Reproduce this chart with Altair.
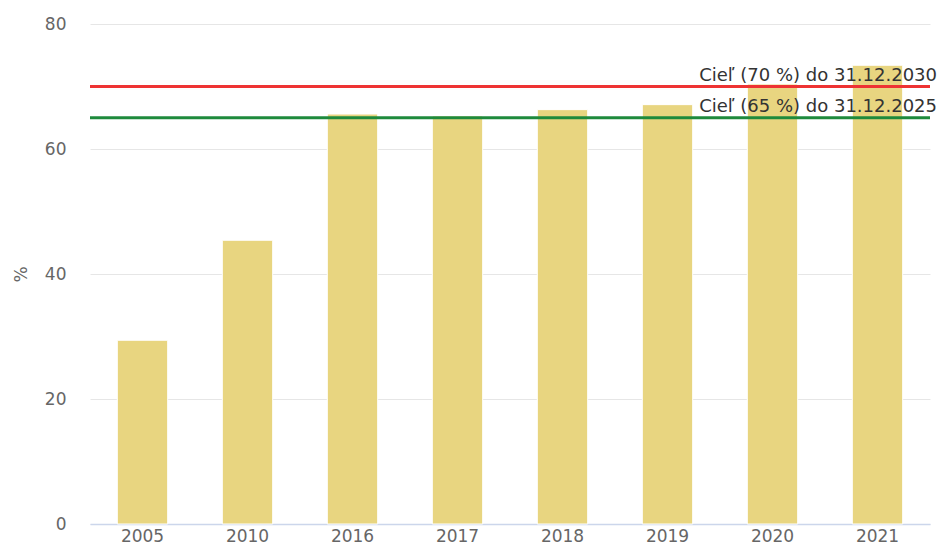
import altair as alt
import pandas as pd

years = ["2005", "2010", "2016", "2017", "2018", "2019", "2020", "2021"]
values = [29.4, 45.4, 65.6, 65.3, 66.3, 67.1, 70.4, 73.4]

target_values = [70, 65]
target_labels = ["Cieľ (70 %) do 31.12.2030", "Cieľ (65 %) do 31.12.2025"]
target_colors = ["#ee3333", "#1e8a3c"]

bars_df = pd.DataFrame({"year": years, "value": values})
targets_df = pd.DataFrame({"value": target_values, "label": target_labels, "color": target_colors})

FONT = "DejaVu Sans"

y_scale = alt.Scale(domain=[0, 80])

bars = alt.Chart(bars_df).mark_bar(color="#e8d580", stroke="white", strokeWidth=1).encode(
    x=alt.X("year:N", sort=years, title=None,
            scale=alt.Scale(paddingInner=0.52, paddingOuter=0.26),
            axis=alt.Axis(labelAngle=0, labelFontSize=17, labelColor="#666666", labelFont=FONT,
                          labelPadding=4, ticks=False, domainColor="#ccd6eb", domainWidth=1.5,
                          grid=False)),
    y=alt.Y("value:Q", scale=y_scale, title="%",
            axis=alt.Axis(values=[0, 20, 40, 60, 80], labelFontSize=17, labelColor="#666666",
                          labelFont=FONT, labelPadding=24, ticks=False, domain=False,
                          gridColor="#e6e6e6", titleFont=FONT, titleFontSize=17,
                          titleFontWeight="normal", titleColor="#666666", titlePadding=14)),
)

rules = alt.Chart(targets_df).mark_rule(strokeWidth=3).encode(
    y=alt.Y("value:Q", scale=y_scale),
    color=alt.Color("color:N", scale=None),
)

texts = alt.Chart(targets_df).mark_text(align="right", baseline="alphabetic", dy=-5.5,
                                        fontSize=18, font=FONT, color="#333333").encode(
    y=alt.Y("value:Q", scale=y_scale),
    x=alt.value(847),
    text="label:N",
)

chart = alt.layer(bars, rules, texts).properties(
    width=840, height=500,
    autosize=alt.AutoSizeParams(type="none"),
    padding={"left": 82, "top": 16, "right": 8, "bottom": 24},
).configure_view(stroke=None)

chart.save("out.html", embed_options={"renderer": "svg", "actions": False})
